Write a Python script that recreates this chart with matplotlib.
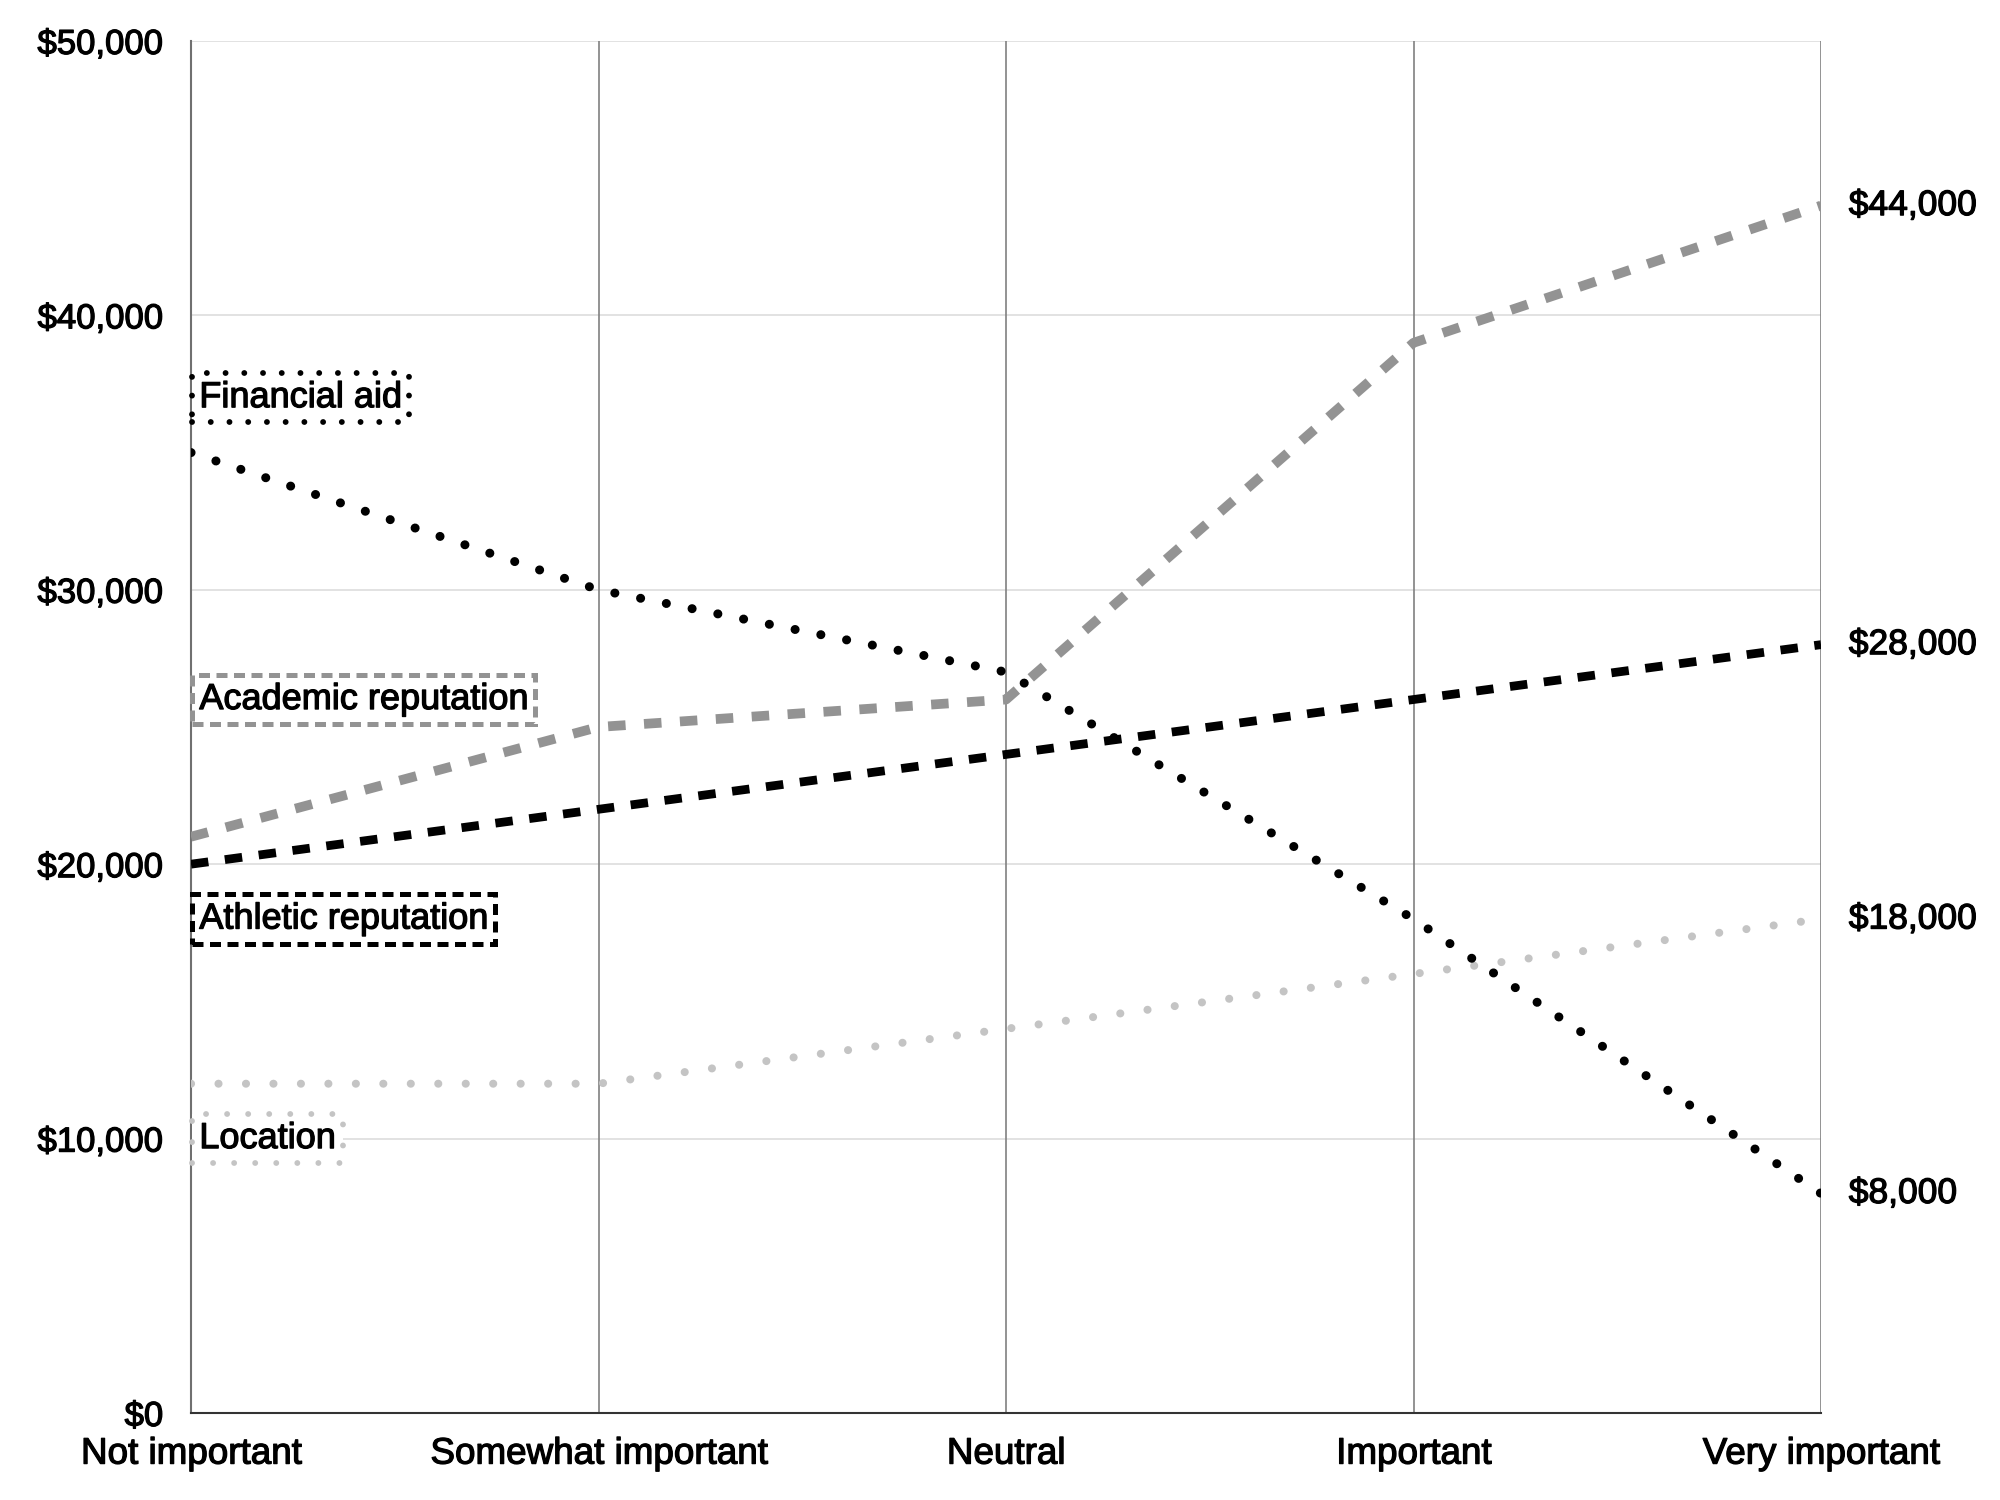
import matplotlib.pyplot as plt
import matplotlib.patheffects as pe
import numpy as np

plt.rcParams['font.family'] = ['Liberation Sans', 'DejaVu Sans']

categories = ['Not important', 'Somewhat important', 'Neutral', 'Important', 'Very important']
financial_aid = [35000, 30000, 27000, 18000, 8000]
academic_rep = [21000, 25000, 26000, 39000, 44000]
athletic_rep = [20000, 22000, 24000, 26000, 28000]
location = [12000, 12000, 14000, 16000, 18000]

end_labels = ['$44,000', '$28,000', '$18,000', '$8,000']
end_values = [44000, 28000, 18000, 8000]

legend_names = ['Financial aid', 'Academic reputation', 'Athletic reputation', 'Location']
legend_y = [37000, 26000, 18000, 10000]

# slightly heavier text, like a medium weight
bold_fx = [pe.withStroke(linewidth=0.9, foreground='black')]

fig = plt.figure(figsize=(20, 15), dpi=100)
ax = fig.add_axes([0.0955, 0.058, 0.815, 0.9147])

x = np.arange(len(categories))

# --- grid ---
for xi in x:
    ax.axvline(xi, color='#808080', lw=1.2, zorder=1)
for yv in range(10000, 60000, 10000):
    ax.axhline(yv, color='#dddddd', lw=1.2, zorder=0)

# --- lines ---
ax.plot(x, location, color='#c4c4c4', lw=5.8, dashes=[0.01, 3.4],
        dash_capstyle='round', zorder=3)
ax.plot(x, athletic_rep, color='black', lw=6.3, dashes=[2.0, 1.9], zorder=3)
ax.plot(x, academic_rep, color='#939393', lw=7, dashes=[1.8, 1.9], zorder=3)
ax.plot(x, financial_aid, color='black', lw=6.5, dashes=[0.01, 2.9],
        dash_capstyle='round', zorder=4)

# --- labeled boxes on the left ---
styles = [
    dict(ec='black', ls=(0, (0.01, 3.2)), lw=4.2, cap='round'),
    dict(ec='#939393', ls=(0, (2.2, 1.3)), lw=3.6, cap='butt'),
    dict(ec='black', ls=(0, (2.2, 1.3)), lw=3.6, cap='butt'),
    dict(ec='#c4c4c4', ls=(0, (0.01, 3.6)), lw=4.2, cap='round'),
]
for name, yv, st in zip(legend_names, legend_y, styles):
    ax.annotate(name, (0, yv), xytext=(6, 0), textcoords='offset points',
                fontsize=26, va='center', ha='left', zorder=5,
                path_effects=bold_fx,
                bbox=dict(boxstyle='square,pad=0.2', fc='white', ec=st['ec'],
                          ls=st['ls'], lw=st['lw'], capstyle=st['cap']))

# --- end value labels ---
for lab, v in zip(end_labels, end_values):
    ax.annotate(lab, (x[-1], v), xytext=(20, 0), textcoords='offset points',
                fontsize=25.5, va='center', ha='left', annotation_clip=False,
                path_effects=bold_fx)

ax.set_xlim(0, 4)
ax.set_ylim(0, 50000)
ax.set_xticks(x)
ax.set_xticklabels(categories, fontsize=26.5, path_effects=bold_fx)
ax.set_yticks(range(0, 60000, 10000))
ax.set_yticklabels(['$0', '$10,000', '$20,000', '$30,000', '$40,000', '$50,000'],
                   fontsize=25, path_effects=bold_fx)
ax.tick_params(length=0, pad=20)
ax.tick_params(axis='x', pad=17)

ax.spines['top'].set_visible(False)
ax.spines['right'].set_visible(False)
ax.spines['left'].set_color('#707070')
ax.spines['left'].set_linewidth(1.5)
ax.spines['bottom'].set_color('#333333')
ax.spines['bottom'].set_linewidth(1.5)

fig.savefig('out.png', dpi=100)
